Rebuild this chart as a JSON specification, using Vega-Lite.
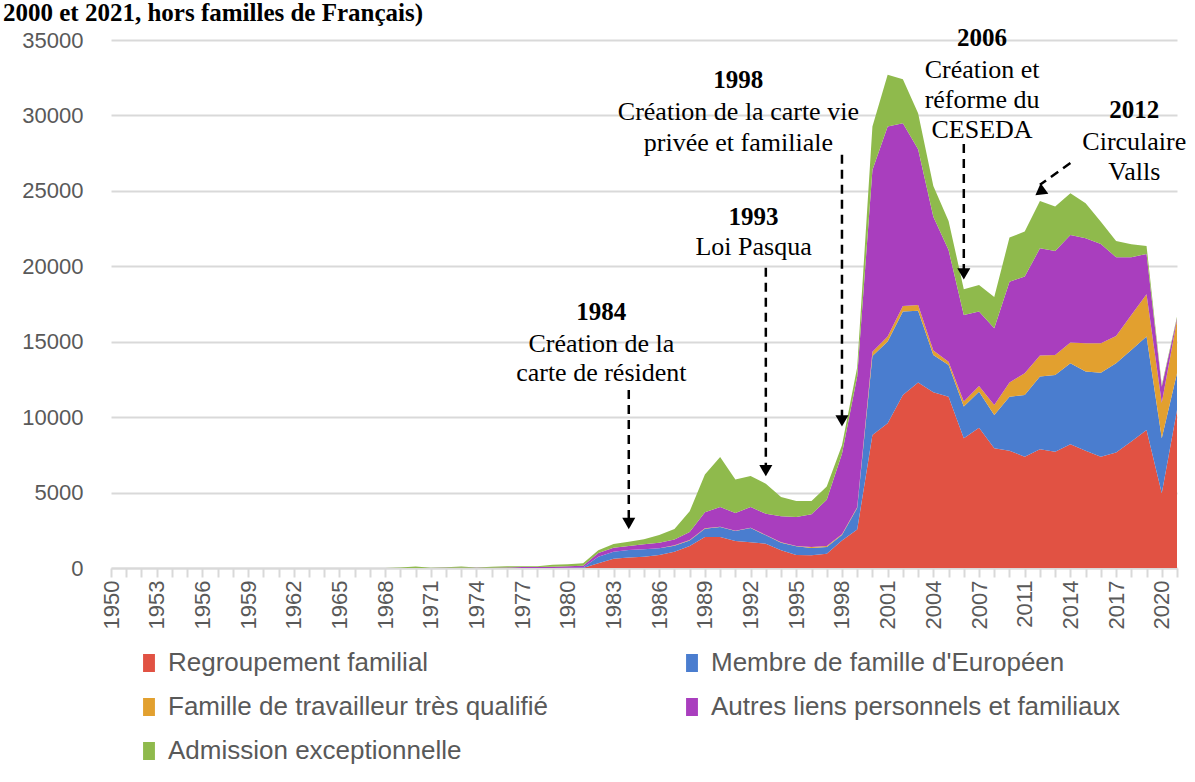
{
  "$schema": "https://vega.github.io/schema/vega-lite/v6.json",
  "autosize": {"type": "none"},
  "width": 1066,
  "height": 528,
  "padding": {"left": 111, "top": 40, "right": 18, "bottom": 214},
  "background": "white",
  "title": {"text": "2000 et 2021, hors familles de Français)", "anchor": "start", "frame": "group", "dx": -108, "offset": -20, "baseline": "alphabetic", "font": "Liberation Serif", "fontSize": 25, "fontWeight": "bold", "color": "#000000"},
  "config": {"view": {"stroke": null}},
  "datasets": {
    "cats": [
      {"k": "R", "cat": "Regroupement familial"},
      {"k": "M", "cat": "Membre de famille d'Européen"},
      {"k": "F", "cat": "Famille de travailleur très qualifié"},
      {"k": "A", "cat": "Autres liens personnels et familiaux"},
      {"k": "X", "cat": "Admission exceptionnelle"}
    ],
    "main": [
      {"year": 1950, "R": 0, "M": 0, "F": 0, "A": 0, "X": 0},
      {"year": 1951, "R": 0, "M": 0, "F": 0, "A": 0, "X": 0},
      {"year": 1952, "R": 0, "M": 0, "F": 0, "A": 0, "X": 0},
      {"year": 1953, "R": 0, "M": 0, "F": 0, "A": 0, "X": 0},
      {"year": 1954, "R": 0, "M": 0, "F": 0, "A": 0, "X": 0},
      {"year": 1955, "R": 0, "M": 0, "F": 0, "A": 0, "X": 0},
      {"year": 1956, "R": 0, "M": 0, "F": 0, "A": 0, "X": 0},
      {"year": 1957, "R": 0, "M": 0, "F": 0, "A": 0, "X": 0},
      {"year": 1958, "R": 0, "M": 0, "F": 0, "A": 0, "X": 0},
      {"year": 1959, "R": 0, "M": 0, "F": 0, "A": 0, "X": 0},
      {"year": 1960, "R": 0, "M": 0, "F": 0, "A": 0, "X": 0},
      {"year": 1961, "R": 0, "M": 0, "F": 0, "A": 0, "X": 0},
      {"year": 1962, "R": 0, "M": 0, "F": 0, "A": 0, "X": 0},
      {"year": 1963, "R": 0, "M": 0, "F": 0, "A": 0, "X": 0},
      {"year": 1964, "R": 0, "M": 0, "F": 0, "A": 0, "X": 0},
      {"year": 1965, "R": 0, "M": 0, "F": 0, "A": 0, "X": 0},
      {"year": 1966, "R": 0, "M": 0, "F": 0, "A": 0, "X": 0},
      {"year": 1967, "R": 0, "M": 0, "F": 0, "A": 0, "X": 0},
      {"year": 1968, "R": 0, "M": 0, "F": 0, "A": 0, "X": 0},
      {"year": 1969, "R": 0, "M": 0, "F": 0, "A": 0, "X": 30},
      {"year": 1970, "R": 0, "M": 0, "F": 0, "A": 0, "X": 100},
      {"year": 1971, "R": 0, "M": 0, "F": 0, "A": 0, "X": 20},
      {"year": 1972, "R": 0, "M": 0, "F": 0, "A": 10, "X": 40},
      {"year": 1973, "R": 0, "M": 0, "F": 0, "A": 10, "X": 90},
      {"year": 1974, "R": 0, "M": 0, "F": 0, "A": 10, "X": 30},
      {"year": 1975, "R": 0, "M": 0, "F": 0, "A": 20, "X": 60},
      {"year": 1976, "R": 0, "M": 0, "F": 0, "A": 40, "X": 70},
      {"year": 1977, "R": 0, "M": 0, "F": 0, "A": 60, "X": 60},
      {"year": 1978, "R": 0, "M": 0, "F": 0, "A": 60, "X": 60},
      {"year": 1979, "R": 0, "M": 0, "F": 0, "A": 80, "X": 130},
      {"year": 1980, "R": 0, "M": 20, "F": 0, "A": 100, "X": 130},
      {"year": 1981, "R": 0, "M": 40, "F": 0, "A": 110, "X": 170},
      {"year": 1982, "R": 310, "M": 440, "F": 0, "A": 240, "X": 180},
      {"year": 1983, "R": 620, "M": 450, "F": 0, "A": 270, "X": 250},
      {"year": 1984, "R": 700, "M": 490, "F": 0, "A": 270, "X": 275},
      {"year": 1985, "R": 740, "M": 510, "F": 0, "A": 320, "X": 330},
      {"year": 1986, "R": 860, "M": 455, "F": 0, "A": 355, "X": 520},
      {"year": 1987, "R": 1070, "M": 410, "F": 30, "A": 380, "X": 690},
      {"year": 1988, "R": 1460, "M": 370, "F": 20, "A": 540, "X": 1370},
      {"year": 1989, "R": 2060, "M": 550, "F": 20, "A": 1060, "X": 2500},
      {"year": 1990, "R": 2060, "M": 660, "F": 20, "A": 1300, "X": 3320},
      {"year": 1991, "R": 1790, "M": 660, "F": 20, "A": 1180, "X": 2210},
      {"year": 1992, "R": 1700, "M": 950, "F": 20, "A": 1370, "X": 2060},
      {"year": 1993, "R": 1610, "M": 560, "F": 20, "A": 1410, "X": 1990},
      {"year": 1994, "R": 1170, "M": 510, "F": 20, "A": 1730, "X": 1280},
      {"year": 1995, "R": 860, "M": 580, "F": 20, "A": 1920, "X": 1060},
      {"year": 1996, "R": 840, "M": 490, "F": 60, "A": 2170, "X": 880},
      {"year": 1997, "R": 950, "M": 450, "F": 60, "A": 3070, "X": 880},
      {"year": 1998, "R": 1830, "M": 360, "F": 40, "A": 5350, "X": 550},
      {"year": 1999, "R": 2550, "M": 1430, "F": 50, "A": 8670, "X": 600},
      {"year": 2000, "R": 8820, "M": 5240, "F": 280, "A": 12050, "X": 2870},
      {"year": 2001, "R": 9590, "M": 5420, "F": 330, "A": 13920, "X": 3430},
      {"year": 2002, "R": 11470, "M": 5530, "F": 370, "A": 12110, "X": 2920},
      {"year": 2003, "R": 12290, "M": 4770, "F": 380, "A": 10320, "X": 2380},
      {"year": 2004, "R": 11650, "M": 2470, "F": 290, "A": 8880, "X": 2040},
      {"year": 2005, "R": 11360, "M": 2100, "F": 220, "A": 7400, "X": 1930},
      {"year": 2006, "R": 8600, "M": 2100, "F": 330, "A": 5740, "X": 1710},
      {"year": 2007, "R": 9300, "M": 2390, "F": 380, "A": 4930, "X": 1760},
      {"year": 2008, "R": 7930, "M": 2210, "F": 670, "A": 5080, "X": 2080},
      {"year": 2009, "R": 7770, "M": 3590, "F": 940, "A": 6680, "X": 2920},
      {"year": 2011, "R": 7380, "M": 4090, "F": 1440, "A": 6410, "X": 2980},
      {"year": 2012, "R": 7870, "M": 4820, "F": 1390, "A": 7110, "X": 3140},
      {"year": 2013, "R": 7710, "M": 5090, "F": 1320, "A": 6900, "X": 2940},
      {"year": 2014, "R": 8200, "M": 5370, "F": 1370, "A": 7140, "X": 2760},
      {"year": 2015, "R": 7780, "M": 5240, "F": 1880, "A": 6960, "X": 2320},
      {"year": 2016, "R": 7380, "M": 5570, "F": 1950, "A": 6580, "X": 1480},
      {"year": 2017, "R": 7650, "M": 5920, "F": 1810, "A": 5220, "X": 1080},
      {"year": 2018, "R": 8380, "M": 6070, "F": 2320, "A": 3830, "X": 860},
      {"year": 2019, "R": 9150, "M": 6190, "F": 2800, "A": 2680, "X": 530},
      {"year": 2020, "R": 4950, "M": 3650, "F": 2360, "A": 1060, "X": 110},
      {"year": 2021, "R": 10480, "M": 2430, "F": 3530, "A": 110, "X": 110}
    ],
    "arrows": [
      {"year": 1984, "year2": 1984, "v1": 11800, "v2": 3300},
      {"year": 1993, "year2": 1993, "v1": 19900, "v2": 6700},
      {"year": 1998, "year2": 1998, "v1": 27400, "v2": 10000},
      {"year": 2006, "year2": 2006, "v1": 28100, "v2": 19800},
      {"year": 2014, "year2": 2012, "v1": 26850, "v2": 25400}
    ],
    "heads": [
      {"year": 1984, "v": 2950},
      {"year": 1993, "v": 6450},
      {"year": 1998, "v": 9750},
      {"year": 2006, "v": 19500}
    ],
    "diaghead": [
      {"year": 2012, "v": 24930}
    ],
    "years": [
      {"year": 1982, "v": 16970, "t": "1984"},
      {"year": 1992, "v": 23270, "t": "1993"},
      {"year": 1991, "v": 32350, "t": "1998"},
      {"year": 2007, "v": 35140, "t": "2006"},
      {"year": 2018, "v": 30370, "t": "2012"}
    ],
    "notes": [
      {"year": 1982, "v": 14850, "t": "Création de la"},
      {"year": 1982, "v": 12930, "t": "carte de résident"},
      {"year": 1992, "v": 21280, "t": "Loi Pasqua"},
      {"year": 1991, "v": 30230, "t": "Création de la carte vie"},
      {"year": 1991, "v": 28180, "t": "privée et familiale"},
      {"year": 2007, "v": 33020, "t": "Création et"},
      {"year": 2007, "v": 31030, "t": "réforme du"},
      {"year": 2007, "v": 29040, "t": "CESEDA"},
      {"year": 2018, "v": 28240, "t": "Circulaire"},
      {"year": 2018, "v": 26260, "t": "Valls"}
    ]
  },
  "layer": [
    {
      "data": {"name": "main"},
      "transform": [
        {"fold": ["R", "M", "F", "A", "X"], "as": ["k", "n"]},
        {"lookup": "k", "from": {"data": {"name": "cats"}, "key": "k", "fields": ["cat"]}}
      ],
      "mark": {"type": "area", "interpolate": "linear"},
      "encoding": {
        "x": {
          "field": "year", "type": "ordinal",
          "scale": {"type": "point", "padding": 0},
          "axis": {
            "title": null, "labelAngle": -90, "labelOverlap": false,
            "labelExpr": "indexof([1950,1953,1956,1959,1962,1965,1968,1971,1974,1977,1980,1983,1986,1989,1992,1995,1998,2001,2004,2007,2011,2014,2017,2020], datum.value) >= 0 ? datum.label : ''",
            "labelFont": "Liberation Sans", "labelFontSize": 22, "labelColor": "#595959",
            "labelPadding": 3, "tickSize": 9, "tickColor": "#D9D9D9", "tickWidth": 2,
            "domainColor": "#D9D9D9", "domainWidth": 2, "grid": false
          }
        },
        "y": {
          "field": "n", "type": "quantitative", "stack": "zero",
          "scale": {"domain": [0, 35000], "nice": false},
          "axis": {
            "title": null, "values": [0, 5000, 10000, 15000, 20000, 25000, 30000, 35000],
            "format": "d", "domain": false, "ticks": false, "labelPadding": 28,
            "labelFont": "Liberation Sans", "labelFontSize": 22, "labelColor": "#595959",
            "gridColor": "#D9D9D9", "gridWidth": 2
          }
        },
        "color": {
          "field": "cat", "type": "nominal",
          "scale": {
            "domain": ["Regroupement familial", "Membre de famille d'Européen", "Famille de travailleur très qualifié", "Autres liens personnels et familiaux", "Admission exceptionnelle"],
            "range": ["#E15243", "#4A7DCF", "#E2A02F", "#A93EBE", "#8FBA4C"]
          },
          "legend": {
            "title": null, "orient": "none", "legendX": 25, "legendY": 610,
            "direction": "horizontal", "columns": 2, "columnPadding": 130, "rowPadding": 18,
            "symbolType": "M-0.66,-1H0.66V1H-0.66Z", "symbolSize": 324, "symbolStrokeWidth": 0,
            "labelFont": "Liberation Sans", "labelFontSize": 26, "labelColor": "#595959",
            "labelLimit": 600, "labelOffset": 6
          }
        },
        "order": {"field": "cat", "sort": "descending"}
      }
    },
    {
      "data": {"name": "arrows"},
      "mark": {"type": "rule", "color": "#000000", "strokeWidth": 2.5, "strokeDash": [9, 6]},
      "encoding": {
        "x": {"field": "year", "type": "ordinal"},
        "x2": {"field": "year2"},
        "y": {"field": "v1", "type": "quantitative"},
        "y2": {"field": "v2"}
      }
    },
    {
      "data": {"name": "heads"},
      "mark": {"type": "point", "shape": "triangle-down", "filled": true, "color": "#000000", "opacity": 1, "size": 170},
      "encoding": {
        "x": {"field": "year", "type": "ordinal"},
        "y": {"field": "v", "type": "quantitative"}
      }
    },
    {
      "data": {"name": "diaghead"},
      "mark": {"type": "point", "shape": "triangle-down", "filled": true, "color": "#000000", "opacity": 1, "size": 170, "angle": 54, "dx": 5, "dy": -4},
      "encoding": {
        "x": {"field": "year", "type": "ordinal"},
        "y": {"field": "v", "type": "quantitative"}
      }
    },
    {
      "data": {"name": "years"},
      "mark": {"type": "text", "font": "Liberation Serif", "fontSize": 25, "fontWeight": "bold", "color": "#000000", "align": "center", "baseline": "middle", "dx": 3},
      "encoding": {
        "x": {"field": "year", "type": "ordinal"},
        "y": {"field": "v", "type": "quantitative"},
        "text": {"field": "t"}
      }
    },
    {
      "data": {"name": "notes"},
      "mark": {"type": "text", "font": "Liberation Serif", "fontSize": 26, "color": "#000000", "align": "center", "baseline": "middle", "dx": 3},
      "encoding": {
        "x": {"field": "year", "type": "ordinal"},
        "y": {"field": "v", "type": "quantitative"},
        "text": {"field": "t"}
      }
    }
  ]
}
